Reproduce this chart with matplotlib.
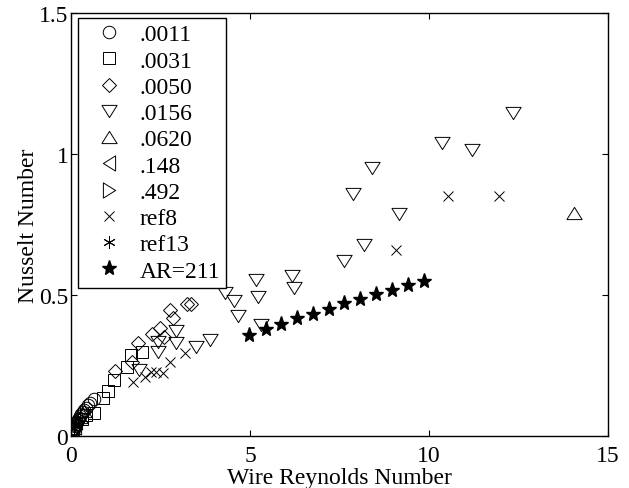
import numpy as np
import matplotlib
matplotlib.use('Agg')
import matplotlib.pyplot as plt

plt.rcParams['font.family'] = ['Liberation Serif', 'DejaVu Serif']

# data (wire Reynolds number, Nusselt number)
re_0011 = [0.03, 0.05, 0.07, 0.09, 0.11, 0.13, 0.15, 0.18, 0.21, 0.24, 0.28, 0.32, 0.36, 0.41, 0.47, 0.53, 0.65]
nu_0011 = [0.010, 0.018, 0.025, 0.030, 0.038, 0.045, 0.050, 0.058, 0.066, 0.073, 0.080, 0.088, 0.095, 0.102, 0.110, 0.118, 0.132]

re_0031 = [0.30, 0.42, 0.64, 0.88, 1.03, 1.19, 1.55, 1.68, 1.99]
nu_0031 = [0.060, 0.075, 0.082, 0.135, 0.160, 0.200, 0.245, 0.287, 0.299]

re_0050 = [1.23, 1.70, 1.87, 2.27, 2.48, 2.60, 2.75, 2.86, 3.25, 3.35]
nu_0050 = [0.230, 0.262, 0.330, 0.363, 0.383, 0.353, 0.448, 0.420, 0.470, 0.470]

re_0156 = [1.90, 2.44, 2.44, 2.92, 2.92, 3.50, 3.88, 4.30, 4.55, 4.65, 5.17, 5.23, 5.31,
           6.16, 6.24, 7.62, 7.89, 8.19, 8.40, 9.17, 10.37, 11.19, 12.36]
nu_0156 = [0.235, 0.300, 0.336, 0.332, 0.375, 0.318, 0.341, 0.508, 0.478, 0.426, 0.553, 0.495, 0.393,
           0.567, 0.527, 0.620, 0.859, 0.679, 0.950, 0.787, 1.038, 1.013, 1.147]

re_0620 = [0.25, 0.35, 14.06]
nu_0620 = [0.070, 0.090, 0.791]

re_148 = [0.05, 0.10, 0.15]
nu_148 = [0.020, 0.035, 0.050]

re_492 = [0.02, 0.04]
nu_492 = [0.008, 0.015]

re_ref8 = [1.74, 2.07, 2.22, 2.38, 2.56, 2.76, 3.18, 9.08, 10.54, 11.96]
nu_ref8 = [0.191, 0.212, 0.228, 0.228, 0.226, 0.265, 0.295, 0.662, 0.851, 0.851]

re_ref13 = [0.08, 0.12, 0.20]
nu_ref13 = [0.030, 0.040, 0.060]

re_ar211 = [4.98, 5.44, 5.87, 6.31, 6.76, 7.21, 7.63, 8.08, 8.53, 8.97, 9.40, 9.85]
nu_ar211 = [0.358, 0.379, 0.399, 0.418, 0.432, 0.453, 0.473, 0.488, 0.505, 0.520, 0.537, 0.549]

# matlab-ish triangles: wider than tall
tri_down = [(-1, 0.8), (1, 0.8), (0, -0.8), (-1, 0.8)]
tri_up = [(-1, -0.8), (1, -0.8), (0, 0.8), (-1, -0.8)]
tri_left = [(0.8, -1), (0.8, 1), (-0.8, 0), (0.8, -1)]
tri_right = [(-0.8, -1), (-0.8, 1), (0.8, 0), (-0.8, -1)]

fig = plt.figure(figsize=(6.29, 4.89), dpi=100)
ax = fig.add_axes([0.113, 0.1055, 0.8536, 0.866])

kw = dict(linestyle='none', markerfacecolor='none', markeredgecolor='k', markeredgewidth=0.7)
ax.plot(re_0011, nu_0011, marker='o', markersize=9, label='.0011', **kw)
ax.plot(re_0031, nu_0031, marker='s', markersize=8, label='.0031', **kw)
ax.plot(re_0050, nu_0050, marker='D', markersize=7, label='.0050', **kw)
ax.plot(re_0156, nu_0156, marker=tri_down, markersize=11, label='.0156', **kw)
ax.plot(re_0620, nu_0620, marker=tri_up, markersize=11, label='.0620', **kw)
ax.plot(re_148, nu_148, marker=tri_left, markersize=11, label='.148', **kw)
ax.plot(re_492, nu_492, marker=tri_right, markersize=11, label='.492', **kw)
ax.plot(re_ref8, nu_ref8, marker='x', markersize=7, label='ref8', **kw)
ax.plot(re_ref13, nu_ref13, marker=(6, 2, 0), markersize=9, label='ref13', **kw)
ax.plot(re_ar211, nu_ar211, linestyle='none', marker='*', markersize=11,
        markerfacecolor='k', markeredgecolor='k', label='AR=211')

ax.set_xlim(0, 15)
ax.set_ylim(0, 1.5)
ax.set_xticks([0, 5, 10, 15])
ax.set_yticks([0, 0.5, 1, 1.5])
ax.set_yticklabels(['0', '0.5', '1', '1.5'])
ax.tick_params(direction='in', top=True, right=True, length=4, width=0.8, labelsize=17, pad=2)
ax.tick_params(axis='x', pad=6)
for s in ax.spines.values():
    s.set_linewidth(1.0)

ax.set_xlabel('Wire Reynolds Number', fontsize=17, labelpad=1)
ax.set_ylabel('Nusselt Number', fontsize=17, labelpad=0)

leg = ax.legend(loc='upper left', bbox_to_anchor=(0.013, 0.988), borderaxespad=0,
                fontsize=17, fancybox=False, edgecolor='k', framealpha=1,
                labelspacing=0.2, handlelength=2.1, handletextpad=0.25, borderpad=0.25)
leg.get_frame().set_linewidth(1.0)

fig.savefig('out.png', dpi=100)
